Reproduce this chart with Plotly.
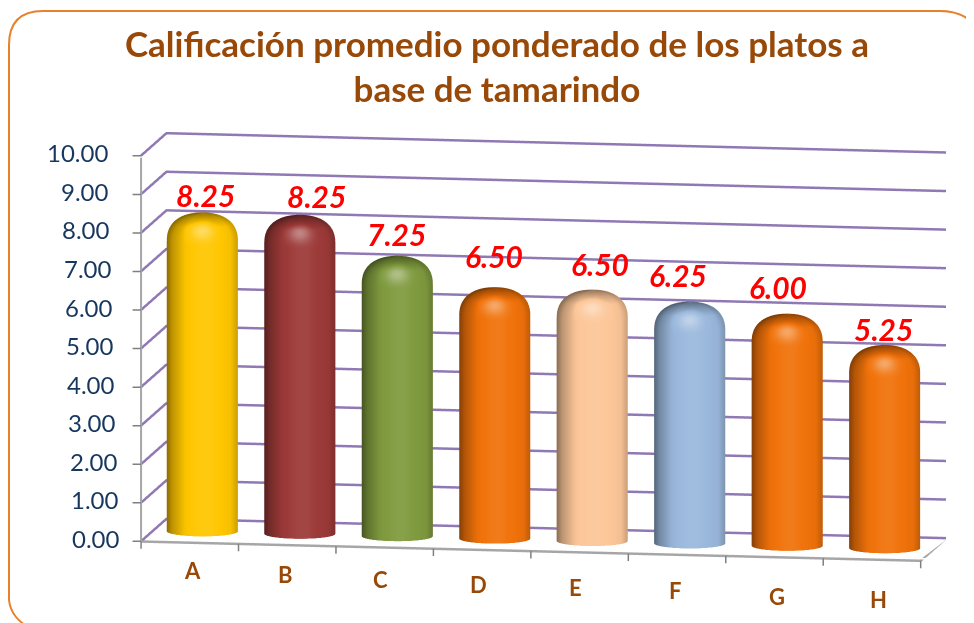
import numpy as np
import plotly.graph_objects as go

CATEGORIES = ["A", "B", "C", "D", "E", "F", "G", "H"]
SCORES = [8.25, 8.25, 7.25, 6.50, 6.50, 6.25, 6.00, 5.25]
BAR_COLORS = ["#ffc600", "#9c3a38", "#7f9a3e", "#f0720a", "#fcc698", "#9ab8dc", "#f0720a", "#f0720a"]
Y_TICKS = [0, 1, 2, 3, 4, 5, 6, 7, 8, 9, 10]

# manual nudges of the labels, the way they sit in the original
LABEL_DX = [3, 16, -1, -1, 8, -12, -9, -1]
LABEL_DY = [18, 20, 23, 32, 26, 27, 27, 17]
CAT_DX = [3, -2, -4, -4, -4, -2, 2, 7]
CAT_DY = [-28, -30, -32, -35, -35, -36, -39, -40]

TITLE = "Calificación promedio ponderado de los platos a<br>base de tamarindo"
BROWN = "#984807"
NAVY = "#17375e"
GRID = "#8f78b4"
AXIS = "#a6a6a6"
TICK = "#808080"
BORDER = "#e8812c"
FONT = "Lato"

AZIM = np.radians(9.5)
ELEV = np.radians(8.5)
CAM_DIST = 4.0
RADIUS_X = 0.36
RADIUS_Y = 0.22
CAP = 0.72


def mix(color, other, t):
    a = [int(color[i:i + 2], 16) for i in (1, 3, 5)]
    b = [int(other[i:i + 2], 16) for i in (1, 3, 5)]
    return "rgb({},{},{})".format(*[round(p + (q - p) * t) for p, q in zip(a, b)])


def cylinder(x0, height, color):
    """Round-topped cylinder with baked shading, since gl lighting burns out."""
    t = np.linspace(0, 2 * np.pi, 90)
    ang = np.linspace(0, np.pi / 2, 30)
    # squarer shoulders than a plain ellipse
    ring = np.concatenate([[1], np.cos(ang) ** 0.85])
    zp = np.concatenate([[0], height - CAP + CAP * np.sin(ang) ** 0.85])
    p = np.concatenate([[0], ang])
    x = x0 + RADIUS_X * np.outer(ring, np.cos(t))
    y = 0.5 + RADIUS_Y * np.outer(ring, np.sin(t))
    z = np.outer(zp, np.ones_like(t))

    # u runs -1..1 across the bar as seen from the camera
    pp, tt = np.meshgrid(p, t, indexing="ij")
    u = np.cos(tt) * np.cos(AZIM) + np.sin(tt) * np.sin(AZIM)
    body = np.interp(u, [-1, -0.85, -0.5, 0.2, 0.8, 1], [0.05, 0.25, 0.47, 0.53, 0.47, 0.3])
    top = np.clip((pp - np.radians(35)) / np.radians(45), 0, 1)
    spot = np.exp(-(u ** 2) / (2 * 0.26 ** 2) - (pp - np.radians(28)) ** 2 / (2 * np.radians(14) ** 2))
    shade = np.clip(body * (1 - 0.7 * top) + 0.42 * spot * np.sin(tt) ** 2, 0, 1)

    scale = [[0, mix(color, "#000000", 0.5)], [0.5, color], [1, mix(color, "#ffffff", 0.45)]]
    return go.Surface(
        x=x, y=y, z=z,
        surfacecolor=shade, cmin=0, cmax=1, colorscale=scale, showscale=False,
        lighting=dict(ambient=1, diffuse=0, specular=0, roughness=1, fresnel=0),
        hoverinfo="skip",
    )


def wall_line(xs, ys, zs, color, width):
    return go.Scatter3d(x=xs, y=ys, z=zs, mode="lines", line=dict(color=color, width=width), hoverinfo="skip")


positions = list(range(len(CATEGORIES)))
edges = [p - 0.5 for p in positions] + [positions[-1] + 0.5]
x_lo, x_hi = edges[0], edges[-1]

fig = go.Figure()
for tick in Y_TICKS:
    # left wall then back wall, gl gridlines stay 1px so they are drawn as lines here
    fig.add_trace(wall_line([x_lo, x_lo, x_hi], [0, 1, 1], [tick] * 3, GRID, 5))
fig.add_trace(wall_line([x_lo, x_hi, x_hi], [0, 0, 1], [0, 0, 0], AXIS, 5))

for pos, score, color in zip(positions, SCORES, BAR_COLORS):
    fig.add_trace(cylinder(pos, score, color))

annotations = []
# the vertical axis line, a 3d line along z does not show up in the picture
annotations.append(dict(
    x=x_lo, y=0, z=Y_TICKS[0], text="", showarrow=True, arrowhead=0, arrowwidth=2,
    arrowcolor=AXIS, ax=0, ay=-385,
))
for pos, score, dx, dy in zip(positions, SCORES, LABEL_DX, LABEL_DY):
    annotations.append(dict(
        x=pos, y=0.5, z=score, text=f"<b><i>{score:.2f}</i></b>", showarrow=False,
        xshift=dx, yshift=dy, font=dict(family=FONT, size=30, color="#ff0000"),
    ))
for pos, cat, dx, dy in zip(positions, CATEGORIES, CAT_DX, CAT_DY):
    annotations.append(dict(
        x=pos, y=0, z=0, text=f"<b>{cat}</b>", showarrow=False,
        xshift=dx, yshift=dy, font=dict(family=FONT, size=22, color=BROWN),
    ))
for tick in Y_TICKS:
    annotations.append(dict(
        x=x_lo, y=0, z=tick, text=f"{tick:.2f}", showarrow=False, xanchor="right",
        xshift=-19 - 1.2 * tick, yshift=3, font=dict(family=FONT, size=24, color=NAVY),
    ))
    annotations.append(dict(
        x=x_lo, y=0, z=tick, text="", showarrow=True, arrowhead=0, arrowwidth=1.5,
        arrowcolor=TICK, ax=-10, ay=0,
    ))
for edge in edges:
    annotations.append(dict(
        x=edge, y=0, z=0, text="", showarrow=True, arrowhead=0, arrowwidth=1.5,
        arrowcolor=TICK, ax=0, ay=9,
    ))

eye = dict(
    x=float(CAM_DIST * np.sin(AZIM) * np.cos(ELEV)),
    y=float(-CAM_DIST * np.cos(AZIM) * np.cos(ELEV)),
    z=float(CAM_DIST * np.sin(ELEV)),
)

# rounded frame running off the right and bottom of the page (page body adds an 8px offset)
W, H = 974.0, 623.0
frame = (
    f"M {1/W} {1-592/H} L {1/W} {1-37/H} Q {1/W} {1-3/H} {35/W} {1-3/H} "
    f"L {932/W} {1-3/H} Q {964/W} {1-3/H} {976/W} {1-32/H} "
    f"M {964/W} {1-622/H} Q {966/W} {1-614/H} {976/W} {1-602/H} "
    f"M {1/W} {1-592/H} Q {3/W} {1-610/H} {22/W} {1-620/H}"
)

hidden = dict(title="", showticklabels=False, showgrid=False, showbackground=False,
              showspikes=False, showline=False, zeroline=False, ticks="")

fig.update_layout(
    width=974, height=623,
    margin=dict(l=0, r=0, t=0, b=0),
    paper_bgcolor="white",
    showlegend=False,
    title=dict(text=f"<b>{TITLE}</b>", x=0.502, y=0.922, xanchor="center", yanchor="top",
               font=dict(family=FONT, size=35, color=BROWN)),
    scene=dict(
        domain=dict(x=[0.105, 0.995], y=[0.026, 0.886]),
        aspectmode="manual",
        aspectratio=dict(x=2.95, y=0.58, z=1.455),
        camera=dict(eye=eye, center=dict(x=0, y=0, z=0), up=dict(x=0, y=0, z=1),
                    projection=dict(type="orthographic")),
        annotations=annotations,
        xaxis=dict(hidden, range=[x_lo, x_hi]),
        yaxis=dict(hidden, range=[0, 1]),
        zaxis=dict(hidden, range=[Y_TICKS[0], Y_TICKS[-1]]),
    ),
    shapes=[dict(type="path", xref="paper", yref="paper", path=frame, line=dict(color=BORDER, width=2))],
)

fig.write_html("out.html")
